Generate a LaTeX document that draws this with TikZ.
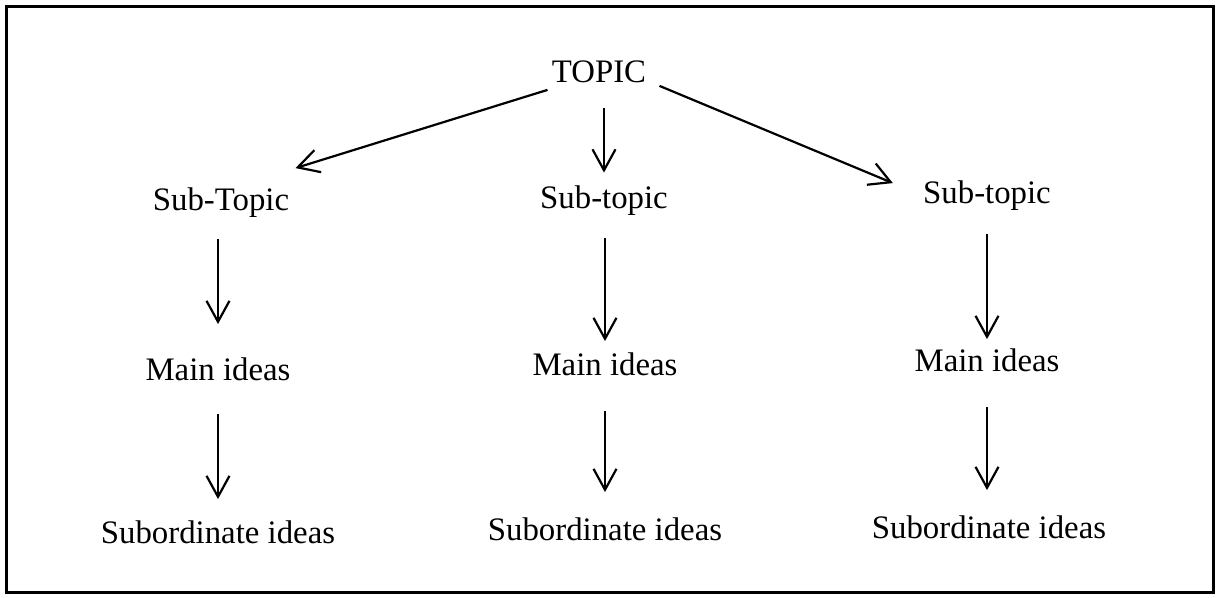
\documentclass[tikz,border=0pt]{standalone}
\usepackage{fontspec}
\setmainfont{Liberation Serif}
\usetikzlibrary{arrows.meta}

\begin{document}
\begin{tikzpicture}[x=0.5pt, y=-0.5pt,
    box/.style={inner sep=0pt, text height=11pt, text depth=3.5pt, font=\fontsize{16.4}{20}\selectfont},
    arr/.style={-{Straight Barb[length=10.5pt,width=11.5pt]}, line width=1.1pt}]
  \useasboundingbox (0,0) rectangle (1217,598);
  \draw[line width=1.5pt] (6,7) rectangle (1213,593);

  \node[box] (topic) at (599,75) {TOPIC};
  \node[box] (subl) at (221,203) {Sub-Topic};
  \node[box] (subm) at (604,201) {Sub-topic};
  \node[box] (subr) at (987,196) {Sub-topic};
  \node[box] (mainl) at (218,373) {Main ideas};
  \node[box] (mainm) at (605,368) {Main ideas};
  \node[box] (mainr) at (987,364) {Main ideas};
  \node[box] (ordl) at (218,536) {Subordinate ideas};
  \node[box] (ordm) at (605,533) {Subordinate ideas};
  \node[box] (ordr) at (989,531) {Subordinate ideas};

  \draw[arr] ([xshift=-2pt]topic.south west) -- ([xshift=3pt,yshift=10pt]subl.north east);
  \draw[arr, shorten <=9pt, shorten >=6.75pt] (topic.south -| subm.north) -- (subm.north);
  \draw[arr] ([xshift=6.5pt,yshift=2pt]topic.south east) -- ([xshift=-15pt,yshift=-1pt]subr.north west);

  \draw[arr, shorten <=10.75pt, shorten >=17pt] (subl.south -| mainl.north) -- (mainl.north);
  \draw[arr, shorten <=13pt, shorten >=11pt] (mainl.south) -- (ordl.north);
  \draw[arr, shorten <=11pt, shorten >=6pt] (subm.south -| mainm.north) -- (mainm.north);
  \draw[arr, shorten <=14pt, shorten >=13pt] (mainm.south) -- (ordm.north);
  \draw[arr, shorten <=11.5pt, shorten >=5pt] (subr.south) -- (mainr.north);
  \draw[arr, shorten <=14pt, shorten >=13pt] (mainr.south) -- (mainr.south |- ordr.north);
\end{tikzpicture}
\end{document}
